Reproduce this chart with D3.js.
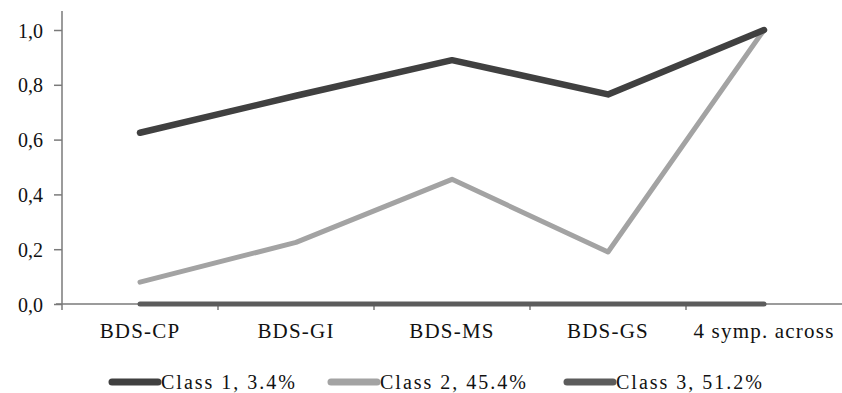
<!DOCTYPE html>
<html><head><meta charset="utf-8">
<script src="https://cdn.jsdelivr.net/npm/d3@7"></script>
<style>body{margin:0;background:#fff}svg{display:block}
text{font-family:"Liberation Serif","Times New Roman",serif;fill:#111}</style>
</head><body>
<svg id="c" width="842" height="393"></svg>
<script>
const categories = ["BDS-CP","BDS-GI","BDS-MS","BDS-GS","4 symp. across"];
const class1 = [0.625, 0.76, 0.89, 0.765, 1.0];
const class2 = [0.08, 0.225, 0.455, 0.19, 1.0];
const class3 = [0, 0, 0, 0, 0];
const seriesNames = ["Class 1, 3.4%","Class 2, 45.4%","Class 3, 51.2%"];
const seriesColors = ["#404040","#a3a3a3","#5c5c5c"];
const yTicks = [0,0.2,0.4,0.6,0.8,1.0];

const svg = d3.select("#c");
const left = 62, right = 842, y0 = 304, y1 = 30;
const x = d3.scaleBand().domain(categories).range([left, right]);
const y = d3.scaleLinear().domain([0,1]).range([y0, y1]);
const axisColor = "#7a7a7a";

// y axis
const ya = svg.append("g").attr("transform",`translate(${left},0)`)
  .call(d3.axisLeft(y).tickValues(yTicks).tickSize(8).tickPadding(11)
    .tickFormat(d => d3.format(".1f")(d).replace(".", ",")));
ya.attr("font-family", null);
ya.select(".domain").remove();
ya.selectAll("line").attr("stroke", axisColor).attr("stroke-width",1.5);
ya.selectAll("text").attr("font-size",20).attr("fill","#111").attr("dy","0.35em");
svg.append("line").attr("x1",left).attr("x2",left).attr("y1",11).attr("y2",y0+6)
  .attr("stroke",axisColor).attr("stroke-width",1.5);

// x axis
svg.append("line").attr("x1",left-6).attr("x2",right).attr("y1",y0).attr("y2",y0)
  .attr("stroke",axisColor).attr("stroke-width",1.5);
const bounds = categories.map(c => x(c)).concat([right]);
svg.selectAll(".xt").data(bounds.slice(1,5)).enter().append("line")
  .attr("x1",d=>d).attr("x2",d=>d).attr("y1",y0).attr("y2",y0+6)
  .attr("stroke",axisColor).attr("stroke-width",1.5);
svg.selectAll(".xl").data(categories).enter().append("text")
  .attr("x",d=>x(d)+x.bandwidth()/2).attr("y",338)
  .attr("text-anchor","middle").attr("font-size",21).attr("letter-spacing",1.2)
  .text(d=>d);

// lines
const cx = d => x(d) + x.bandwidth()/2;
const line = d3.line().x((d,i)=>cx(categories[i])).y(d=>y(d));
const data = [class1, class2, class3];
const widths = [6.5, 5, 5];
[2,1,0].forEach(k => {
  svg.append("path").datum(data[k]).attr("d", line).attr("fill","none")
    .attr("stroke", seriesColors[k]).attr("stroke-width", widths[k])
    .attr("stroke-linejoin","round").attr("stroke-linecap","round");
});

// legend
const legX = [108, 327, 563];
const lg = svg.selectAll(".lg").data(seriesNames).enter().append("g")
  .attr("transform",(d,i)=>`translate(${legX[i]},382)`);
lg.append("line").attr("x1",4).attr("x2",50).attr("y1",0).attr("y2",0)
  .attr("stroke",(d,i)=>seriesColors[i]).attr("stroke-width",7).attr("stroke-linecap","round");
lg.append("text").attr("x",53).attr("y",7).attr("font-size",20).attr("letter-spacing",2)
  .text(d=>d);
</script>
</body></html>
